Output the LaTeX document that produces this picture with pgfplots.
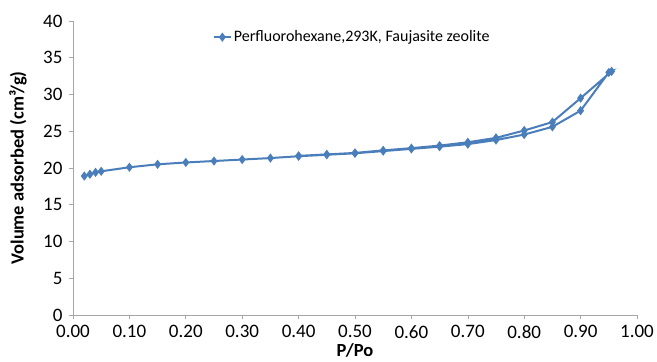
\documentclass[border=0pt]{standalone}
\usepackage{pgfplots}
\pgfplotsset{compat=1.18}
\usepackage{fontspec}
\setmainfont{Carlito}
\definecolor{xlblue}{HTML}{4A7EBB}
\begin{document}
\begin{tikzpicture}
\begin{axis}[
  scale only axis,
  width=564pt, height=294pt,
  xmin=0, xmax=1, ymin=0, ymax=40,
  xtick={0,0.1,...,1.0},
  ytick={0,5,...,40},
  /pgf/number format/assume math mode=true,
  xticklabel style={/pgf/number format/fixed,/pgf/number format/fixed zerofill,/pgf/number format/precision=2,yshift=-3pt},
  yticklabel style={xshift=-3pt},
  axis x line=bottom, axis y line=left,
  axis line style={-, draw=gray!70},
  tick style={draw=gray!70, line width=0.6pt},
  tick align=outside,
  major tick length=4pt,
  tick label style={font=\fontsize{19}{22}\selectfont},
  xlabel={\textbf{P/Po}},
  ylabel={\textbf{Volume adsorbed (cm³/g)}},
  label style={font=\fontsize{18.5}{20}\selectfont, inner sep=0pt},
  xlabel style={at={(axis description cs:0.5,-0.119)}, anchor=center},
  ylabel style={at={(axis description cs:-0.0975,0.5)}, anchor=center},
  legend style={at={(0.495,0.945)}, anchor=center, draw=none, fill=none,
    font=\fontsize{16}{18}\selectfont},
  legend cell align=left,
]
\addplot[color=xlblue, line width=2pt, mark=diamond*, mark size=3pt, mark options={solid}]
coordinates {
(0.02,18.9) (0.03,19.15) (0.04,19.4) (0.05,19.55) (0.10,20.1) (0.15,20.5) (0.20,20.75)
(0.25,20.95) (0.30,21.15) (0.35,21.35) (0.40,21.6) (0.45,21.8) (0.50,22.0) (0.55,22.3)
(0.60,22.6) (0.65,22.9) (0.70,23.25) (0.75,23.8) (0.80,24.55) (0.85,25.6) (0.90,27.8) (0.95,33.0)
(0.955,33.15) (0.90,29.5) (0.85,26.25) (0.80,25.1) (0.75,24.1) (0.70,23.5) (0.65,23.05)
(0.60,22.7) (0.55,22.4) (0.50,22.05) (0.45,21.85) (0.40,21.65)
};
\addlegendentry{Perfluorohexane,293K, Faujasite zeolite}
\coordinate (ll) at (rel axis cs:0,0);
\coordinate (ur) at (rel axis cs:1,1);
\end{axis}
\pgfresetboundingbox
\path ([shift={(-73pt,-47pt)}]ll) rectangle ([shift={(20pt,21pt)}]ur);
\end{tikzpicture}
\end{document}
